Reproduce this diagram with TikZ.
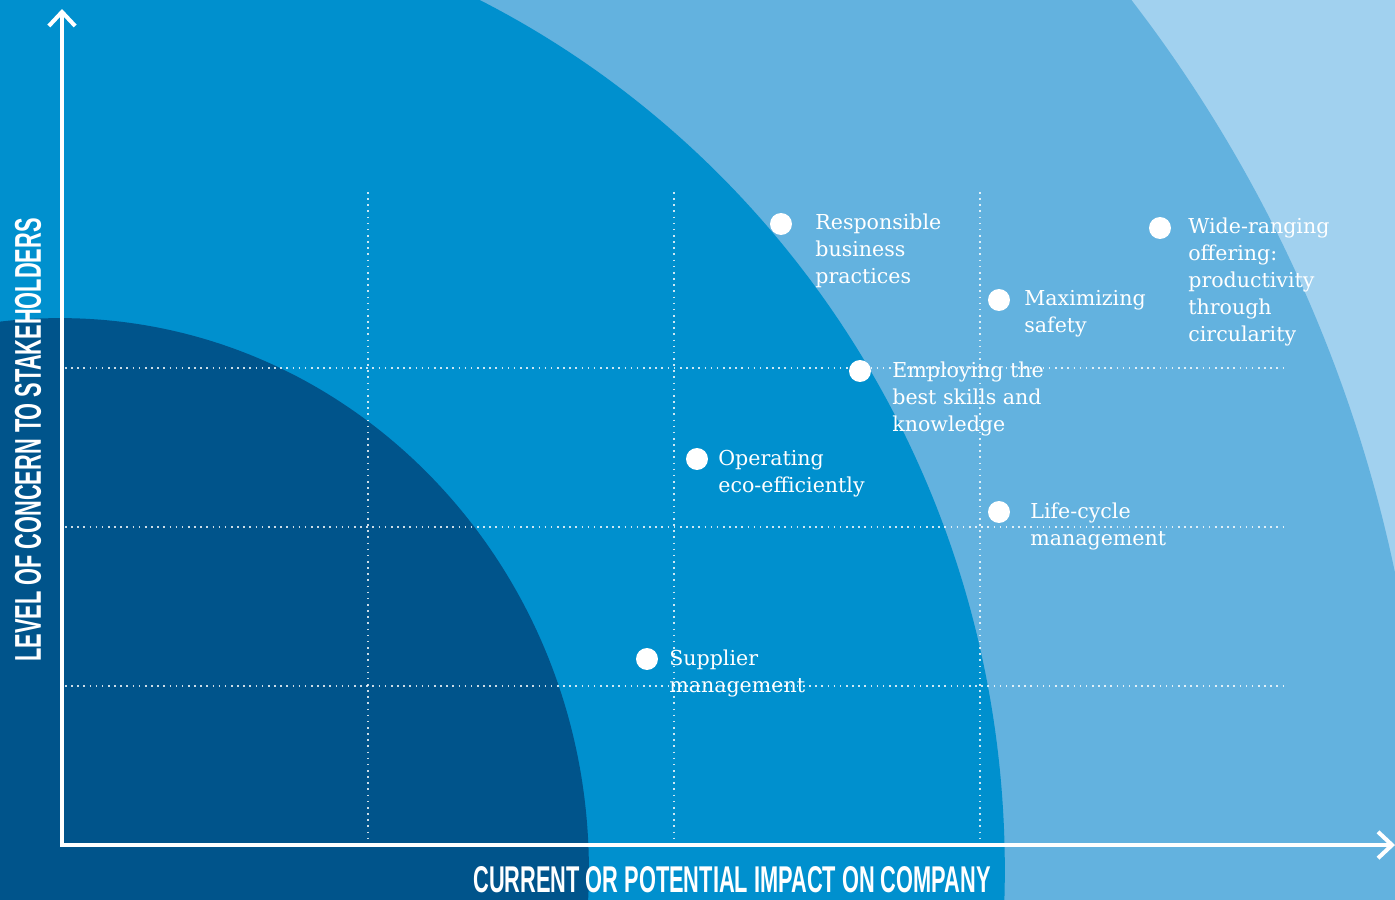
\documentclass[tikz,border=0pt]{standalone}
\usepackage{fontspec}
\setmainfont{DejaVu Serif}
\newfontfamily\axisfont{Liberation Sans}[FakeStretch=0.585]
\usetikzlibrary{arrows.meta}

\definecolor{skyblue}{HTML}{A1D1EF}
\definecolor{midblue}{HTML}{63B2DF}
\definecolor{coreblue}{HTML}{0090CE}
\definecolor{deepblue}{HTML}{00548B}

\tikzset{
  axes/.style={white, line width=2.3pt, miter limit=4,
    {Straight Barb[length=8pt,width=15pt,line width=2.3pt]}-{Straight Barb[length=8pt,width=15pt,line width=2.3pt]}},
  gridline/.style={white, opacity=.8, line width=.9pt, dash pattern=on .9pt off 2.6pt},
  spot/.style={circle, fill=white, minimum size=12.5pt, inner sep=0pt},
  lbl/.style={anchor=north west, inner sep=0pt, align=left, text=white,
    font=\fontsize{11.7}{15.3}\selectfont},
  axislabel/.style={text=white, inner sep=0pt, font=\axisfont\bfseries\fontsize{21.2}{24}\selectfont}
}

\begin{document}
\begin{tikzpicture}[x=0.02cm, y=-0.02cm]
\useasboundingbox (0,0) rectangle (1395,899);

% bands
\begin{scope}
\clip (0,0) rectangle (1395,899);
\fill[skyblue] (0,0) rectangle (1395,899);
\fill[midblue] (60,870) ellipse [x radius=27.32cm, y radius=28.06cm];
\fill[coreblue] (60,870) ellipse [x radius=18.9cm, y radius=19.42cm];
\fill[deepblue] (60,870) ellipse [x radius=10.58cm, y radius=11.04cm];
\end{scope}

% grid
\foreach \gx in {368,674,980}
  \draw[gridline] (\gx,192) -- (\gx,843);
\foreach \gy in {368,527,686}
  \draw[gridline] (65,\gy) -- (1287,\gy);

% axes
\coordinate (ytip) at (62,9);
\coordinate (origin) at (62,845);
\coordinate (xtip) at (1395,845);
\draw[axes] (ytip) -- (origin) -- (xtip);

\node[axislabel, rotate=90] (ylabel) at (28,440) {LEVEL OF CONCERN TO STAKEHOLDERS};
\node[axislabel] (xlabel) at (732,880) {CURRENT OR POTENTIAL IMPACT ON COMPANY};

% topics
\node[spot] (resp) at (781,224) {};
\node[lbl] (resp-txt) at (815,214) {Responsible\\business\\practices};

\node[spot] (safety) at (999,300) {};
\node[lbl] (safety-txt) at (1024,290) {Maximizing\\safety};

\node[spot] (offer) at (1160,228) {};
\node[lbl] (offer-txt) at (1188,218) {Wide-ranging\\offering:\\productivity\\through\\circularity};

\node[spot] (skills) at (860,371) {};
\node[lbl] (skills-txt) at (892,362) {Employing the\\best skills and\\knowledge};

\node[spot] (eco) at (697,459) {};
\node[lbl] (eco-txt) at (718,450) {Operating\\eco-efficiently};

\node[spot] (cycle) at (999,512) {};
\node[lbl] (cycle-txt) at (1030,503) {Life-cycle\\management};

\node[spot] (supply) at (647,659) {};
\node[lbl] (supply-txt) at (669,650) {Supplier\\management};
\end{tikzpicture}
\end{document}
